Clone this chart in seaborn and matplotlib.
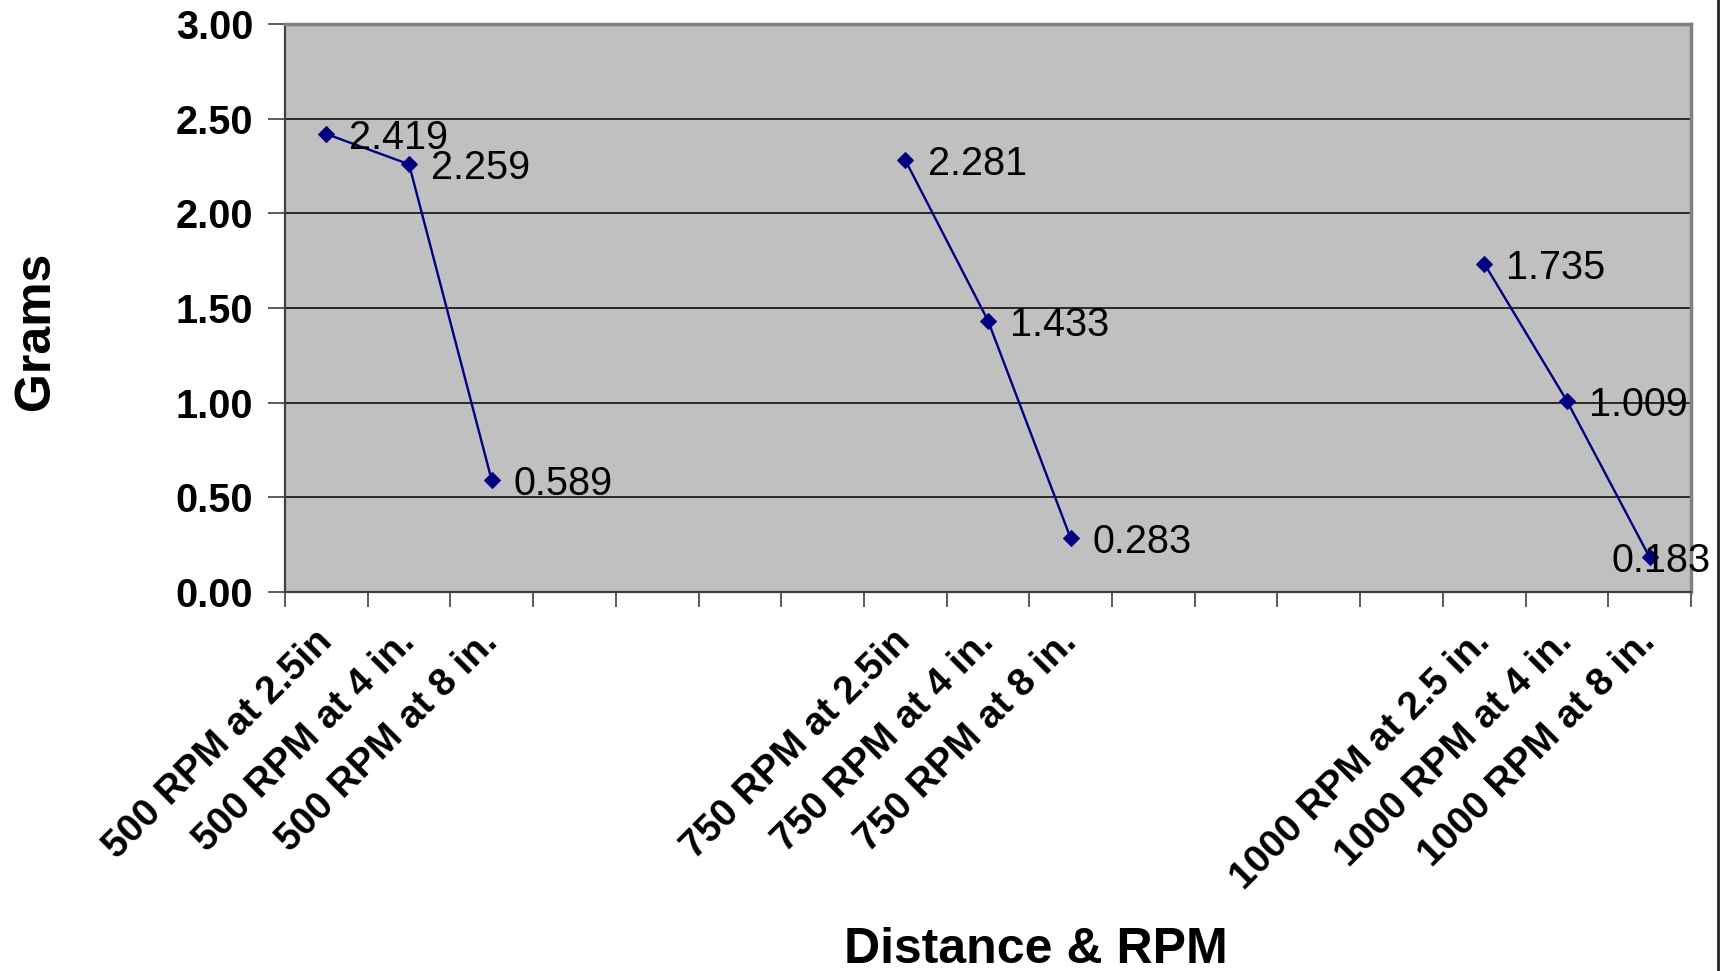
import numpy as np
import pandas as pd
import matplotlib
matplotlib.use("Agg")
import matplotlib.pyplot as plt
from matplotlib.lines import Line2D
from matplotlib.ticker import FixedLocator, FormatStrFormatter
import seaborn as sns

# categories on the x axis (blank slots separate the RPM groups)
categories = ["500 RPM at 2.5in", "500 RPM at 4 in.", "500 RPM at 8 in.",
              "", "", "", "",
              "750 RPM at 2.5in", "750 RPM at 4 in.", "750 RPM at 8 in.",
              "", "", "", "",
              "1000 RPM at 2.5 in.", "1000 RPM at 4 in.", "1000 RPM at 8 in."]
rpm = [500, 500, 500, None, None, None, None,
       750, 750, 750, None, None, None, None,
       1000, 1000, 1000]
grams = [2.419, 2.259, 0.589, np.nan, np.nan, np.nan, np.nan,
         2.281, 1.433, 0.283, np.nan, np.nan, np.nan, np.nan,
         1.735, 1.009, 0.183]
y_ticks = [0.0, 0.5, 1.0, 1.5, 2.0, 2.5, 3.0]

df = pd.DataFrame({"pos": range(len(categories)), "label": categories,
                   "rpm": rpm, "grams": grams}).dropna(subset=["grams"])

sns.set_theme(style="white")
plt.rcParams["font.family"] = ["Liberation Sans", "DejaVu Sans"]
plt.rcParams.update({"text.color": "black", "axes.labelcolor": "black",
                     "xtick.color": "black", "ytick.color": "black"})

fig = plt.figure(figsize=(17.29, 9.71), dpi=100)
ax = fig.add_axes([285 / 1729, 1 - 592 / 971, (1691 - 285) / 1729, (592 - 24) / 971])
ax.set_facecolor("#C0C0C0")

navy = "#000080"
sns.lineplot(data=df, x="pos", y="grams", units="rpm", estimator=None,
             color=navy, marker="D", markersize=8, markeredgecolor=navy,
             linewidth=1.7, ax=ax)

# data labels
last = df["pos"].max()
for _, r in df.iterrows():
    if r["pos"] == last:
        ax.annotate(f"{r['grams']:.3f}", (r["pos"], r["grams"]), xytext=(8, 0),
                    textcoords="offset points", ha="center", va="center_baseline",
                    fontsize=28.5, color="black")
    else:
        ax.annotate(f"{r['grams']:.3f}", (r["pos"], r["grams"]), xytext=(16, 0),
                    textcoords="offset points", ha="left", va="center_baseline",
                    fontsize=28.5, color="black")

ax.set_xlim(-0.5, len(categories) - 0.5)
ax.set_ylim(0, 3)
ax.yaxis.set_major_locator(FixedLocator(y_ticks))
ax.yaxis.set_major_formatter(FormatStrFormatter("%.2f"))
for v in y_ticks[1:-1]:
    ax.axhline(v, color="black", linewidth=1.1, zorder=0.5)

ax.set_xticks(range(len(categories)))
ax.set_xticklabels(categories, rotation=45, ha="right", va="center",
                   rotation_mode="anchor", fontsize=28, fontweight="bold")
ax.set_xticks(np.arange(-0.5, len(categories), 1.0), minor=True)
ax.tick_params(axis="x", which="major", length=0, pad=32)
ax.tick_params(axis="x", which="minor", length=11, width=1.2, color="#404040",
               direction="out", bottom=True)
ax.tick_params(axis="y", length=12, width=1.2, color="#404040", direction="out",
               left=True, pad=11, labelsize=28.5)
for t in ax.get_yticklabels():
    t.set_fontweight("bold")

for side in ["top", "right"]:
    ax.spines[side].set_color("#808080")
    ax.spines[side].set_linewidth(2.5)
for side in ["left", "bottom"]:
    ax.spines[side].set_color("#404040")
    ax.spines[side].set_linewidth(1.6)

ax.set_ylabel("Grams", fontsize=36, fontweight="bold")
ax.yaxis.set_label_coords(-0.177, 0.46)
ax.yaxis.label.set_va("center")
ax.set_xlabel("Distance & RPM", fontsize=36, fontweight="bold")
ax.xaxis.set_label_coords(0.534, -0.63)
ax.xaxis.label.set_va("center")

# chart frame edge at the right
fig.add_artist(Line2D([1718 / 1729, 1718 / 1729], [0, 1], transform=fig.transFigure,
                      color="#222222", linewidth=2))

fig.savefig("out.png", dpi=100)
